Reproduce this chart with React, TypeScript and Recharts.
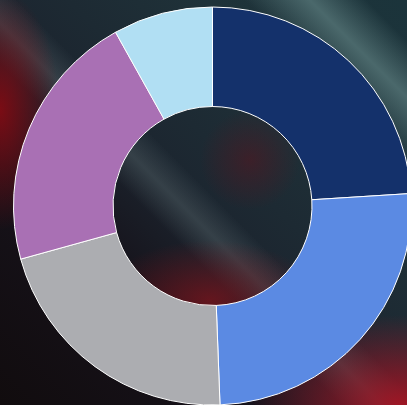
import { Cell, Pie, PieChart } from "recharts";

const categories = ["A", "B", "C", "D", "E"];
const values = [24, 25.4, 21.3, 21.2, 8.1];
const colors = ["#14316b", "#5b8ae3", "#acadb1", "#a970b4", "#b1dff3"];

const data = categories.map((name, i) => ({ name, value: values[i] }));

const background = [
	"radial-gradient(ellipse 60px 120px at 0px 110px, rgba(140,10,18,0.85), transparent)",
	"radial-gradient(ellipse 150px 90px at 400px 405px, rgba(165,20,35,0.95), transparent)",
	"radial-gradient(ellipse 110px 60px at 210px 300px, rgba(125,20,28,0.75), transparent)",
	"radial-gradient(ellipse 50px 50px at 250px 160px, rgba(90,20,30,0.5), transparent)",
	"linear-gradient(45deg, transparent 42%, rgba(85,100,105,0.45) 47%, transparent 52%)",
	"linear-gradient(45deg, transparent 80%, rgba(105,140,140,0.6) 88%, transparent 95%)",
	"linear-gradient(45deg, #110c0e 0%, #16121a 30%, #1c2630 50%, #1f3239 75%, #1b343b 100%)",
].join(", ");

export default function App() {
	return (
		<div
			style={{
				position: "fixed",
				left: 0,
				top: 0,
				width: 407,
				height: 405,
				background,
			}}
		>
			<PieChart
				width={407}
				height={405}
				margin={{ top: 0, right: 0, bottom: 0, left: 0 }}
			>
				<Pie
					data={data}
					dataKey='value'
					nameKey='name'
					cx={212.5}
					cy={206}
					innerRadius={99.5}
					outerRadius={199}
					startAngle={90}
					endAngle={-270}
					stroke='#ffffff'
					strokeWidth={1}
					isAnimationActive={false}
				>
					{data.map((d, i) => (
						<Cell key={d.name} fill={colors[i]} />
					))}
				</Pie>
			</PieChart>
		</div>
	);
}
